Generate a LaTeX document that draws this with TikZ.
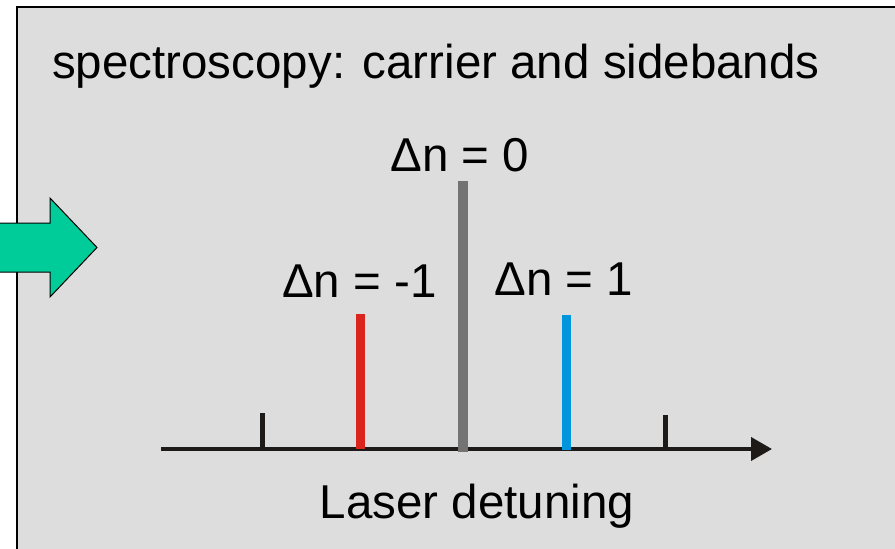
\documentclass[tikz,border=0pt]{standalone}
\usepackage{fontspec}
\setmainfont{Liberation Sans}
\usepackage{xcolor}
\usetikzlibrary{arrows.meta,positioning}

\definecolor{panelgray}{HTML}{DDDDDD}
\definecolor{axisblack}{HTML}{1E1A17}
\definecolor{carriergray}{HTML}{737373}
\definecolor{redband}{HTML}{DA251D}
\definecolor{blueband}{HTML}{0096DE}
\definecolor{arrowgreen}{HTML}{00CC99}

\begin{document}
\begin{tikzpicture}[
x=1pt,y=-1pt,
lbl/.style={font=\fontsize{47.5}{56}\selectfont,text=black,inner sep=0pt,anchor=base},
band/.style={line width=9pt},
tickline/.style={line width=5pt,draw=axisblack},
axis/.style={line width=4pt,draw=axisblack,-{Triangle[length=21pt,width=23pt]}}
]
\path[use as bounding box,clip] (0,0) rectangle (895,549);
\fill[white] (0,0) rectangle (895,549);
\draw[fill=panelgray,line width=2pt] (17,7) rectangle (910,570);
\draw[fill=arrowgreen,line width=1pt] (-5,223) -- (50,223) -- (50,198) -- (97,247.5)
  -- (50,297) -- (50,272) -- (-5,272) -- cycle;

\node[lbl,anchor=base west] (title) at (52,78) {spectroscopy: carrier and sidebands};

\coordinate (ax0) at (161,449);
\coordinate (axtip) at (772,449);
\coordinate (tickL) at (262.5,413);
\coordinate (tickLb) at (262.5,449);
\coordinate (tickR) at (665.5,415);
\coordinate (tickRb) at (665.5,449);
\coordinate (redtop) at (360.5,314);
\coordinate (redbot) at (360.5,449);
\coordinate (graytop) at (463,181);
\coordinate (graybot) at (463,452);
\coordinate (bluetop) at (566.5,315);
\coordinate (bluebot) at (566.5,450);

\draw[tickline] (tickL) -- (tickLb);
\draw[tickline] (tickR) -- (tickRb);
\draw[axis] (ax0) -- (axtip);
\draw[band,draw=redband] (redbot) -- (redtop);
\draw[band,line width=10pt,draw=carriergray] (graybot) -- (graytop);
\draw[band,draw=blueband] (bluebot) -- (bluetop);

\node[lbl] (carrier) at (460,171) {Δn = 0};
\node[lbl] (redlbl) at (359.5,297) {Δn = -1};
\node[lbl] (bluelbl) at (564,295) {Δn = 1};
\node[lbl] (xlabel) at (477,518) {Laser detuning};
\end{tikzpicture}
\end{document}
